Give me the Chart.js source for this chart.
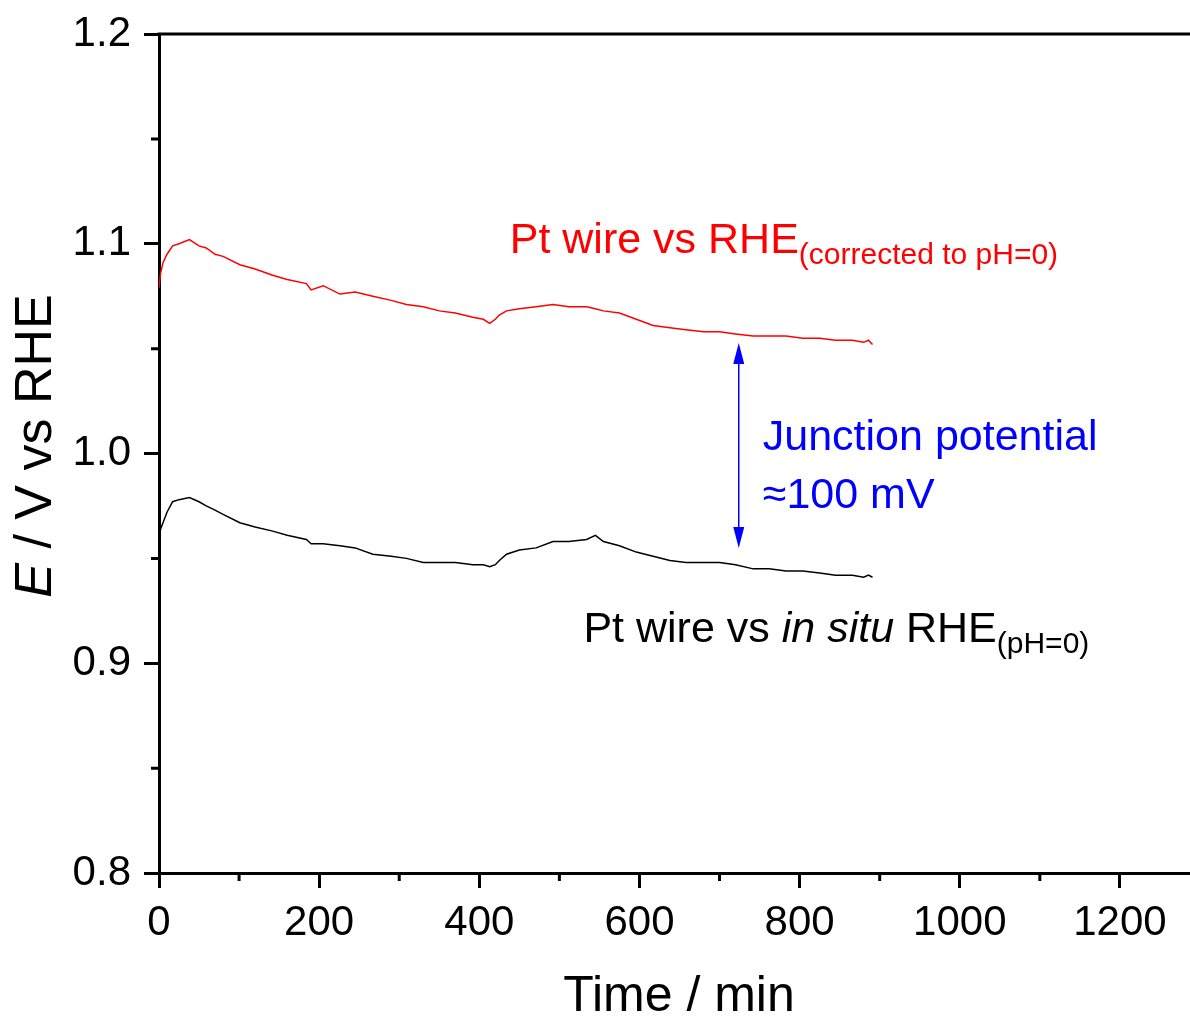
<!DOCTYPE html>
<html>
<head>
<meta charset="utf-8">
<title>Junction potential</title>
<script src="https://cdn.jsdelivr.net/npm/chart.js@4.4.1/dist/chart.umd.min.js"></script>
<style>
    html, body { margin: 0; padding: 0; background: #fff; overflow: hidden; }
    canvas { display: block; }
</style>
</head>
<body>
<canvas id="potential-chart" width="1210" height="1016" style="width:1210px;height:1016px"></canvas>
<script>
    "use strict";

    // Data (time in min, potential in V vs RHE)
    var times = [0, 2, 5, 10, 17, 25, 38, 50, 59, 70,
        80, 101, 120, 142, 160, 184, 190, 205, 226, 245,
        267, 290, 309, 330, 350, 370, 392, 405, 413, 420,
        425, 434, 450, 471, 492, 512, 534, 545, 555, 575,
        596, 617, 638, 658, 680, 700, 720, 742, 762, 783,
        804, 825, 845, 866, 880, 886, 891];

    var ptVsRhe = [1.079, 1.086, 1.091, 1.095, 1.099, 1.100, 1.102, 1.099, 1.098, 1.095,
        1.094, 1.090, 1.088, 1.085, 1.083, 1.081, 1.078, 1.080, 1.076, 1.077,
        1.075, 1.073, 1.071, 1.070, 1.068, 1.067, 1.065, 1.064, 1.062, 1.064,
        1.066, 1.068, 1.069, 1.070, 1.071, 1.070, 1.070, 1.069, 1.068, 1.067,
        1.064, 1.061, 1.060, 1.059, 1.058, 1.058, 1.057, 1.056, 1.056, 1.056,
        1.055, 1.055, 1.054, 1.054, 1.053, 1.054, 1.052];

    var ptVsInSituRhe = [0.958, 0.964, 0.967, 0.972, 0.977, 0.978, 0.979, 0.977, 0.975, 0.973,
        0.971, 0.967, 0.965, 0.963, 0.961, 0.959, 0.957, 0.957, 0.956, 0.955,
        0.952, 0.951, 0.950, 0.948, 0.948, 0.948, 0.947, 0.947, 0.946, 0.947,
        0.949, 0.952, 0.954, 0.955, 0.958, 0.958, 0.959, 0.961, 0.958, 0.956,
        0.953, 0.951, 0.949, 0.948, 0.948, 0.948, 0.947, 0.945, 0.945, 0.944,
        0.944, 0.943, 0.942, 0.942, 0.941, 0.942, 0.941];

    var xMinorTicks = [100, 300, 500, 700, 900, 1100, 1300];
    var yMinorTicks = [0.85, 0.95, 1.05, 1.15];

    // Junction potential arrow (time, upper and lower potential)
    var arrowTime = 724;
    var arrowTop = 1.0527;
    var arrowBottom = 0.9549;

    var FONT = '"Liberation Sans", Arial, sans-serif';

    function toPoints(xs, ys) {
        return xs.map(function (x, i) { return { x: x, y: ys[i] }; });
    }

    function drawRuns(ctx, x, y, runs) {
        ctx.textAlign = 'left';
        ctx.textBaseline = 'alphabetic';
        runs.forEach(function (r) {
            ctx.font = r.font;
            ctx.fillText(r.text, x, y + (r.dy || 0));
            x += ctx.measureText(r.text).width;
        });
    }

    function runsWidth(ctx, runs) {
        var w = 0;
        runs.forEach(function (r) {
            ctx.font = r.font;
            w += ctx.measureText(r.text).width;
        });
        return w;
    }

    // Frame, minor ticks, titles and labels
    var extras = {
        id: 'extras',
        afterDraw: function (chart) {
            var ctx = chart.ctx;
            var area = chart.chartArea;
            var xs = chart.scales.x;
            var ys = chart.scales.y;

            ctx.save();
            ctx.strokeStyle = '#000';
            ctx.lineWidth = 3;

            // top frame line
            ctx.beginPath();
            ctx.moveTo(area.left - 1.5, area.top);
            ctx.lineTo(chart.width, area.top);
            ctx.stroke();

            // minor ticks
            ctx.beginPath();
            xMinorTicks.forEach(function (v) {
                var px = xs.getPixelForValue(v);
                ctx.moveTo(px, area.bottom);
                ctx.lineTo(px, area.bottom + 8);
            });
            yMinorTicks.forEach(function (v) {
                var py = ys.getPixelForValue(v);
                ctx.moveTo(area.left, py);
                ctx.lineTo(area.left - 8, py);
            });
            ctx.stroke();

            // axis titles
            ctx.fillStyle = '#000';
            ctx.font = '50px ' + FONT;
            ctx.textAlign = 'center';
            ctx.textBaseline = 'alphabetic';
            ctx.fillText('Time / min', 679, 1011);

            var yTitle = [
                { text: 'E', font: 'italic 52px ' + FONT },
                { text: ' / V vs RHE', font: '52px ' + FONT }
            ];
            ctx.save();
            ctx.translate(51, 446);
            ctx.rotate(-Math.PI / 2);
            drawRuns(ctx, -runsWidth(ctx, yTitle) / 2, 0, yTitle);
            ctx.restore();

            // red label
            ctx.fillStyle = '#ff0000';
            drawRuns(ctx, xs.getPixelForValue(438), ys.getPixelForValue(1.0956), [
                { text: 'Pt wire vs RHE', font: '43px ' + FONT },
                { text: '(corrected to pH=0)', font: '30px ' + FONT, dy: 11 }
            ]);

            // black label
            ctx.fillStyle = '#000';
            drawRuns(ctx, xs.getPixelForValue(530), ys.getPixelForValue(0.9102), [
                { text: 'Pt wire vs ', font: '43px ' + FONT },
                { text: 'in situ', font: 'italic 43px ' + FONT },
                { text: ' RHE', font: '43px ' + FONT },
                { text: '(pH=0)', font: '30px ' + FONT, dy: 11 }
            ]);

            // junction potential arrow and text
            var ax = xs.getPixelForValue(arrowTime);
            var aTop = ys.getPixelForValue(arrowTop);
            var aBot = ys.getPixelForValue(arrowBottom);
            ctx.strokeStyle = '#0000ff';
            ctx.fillStyle = '#0000ff';
            ctx.lineWidth = 1.5;
            ctx.beginPath();
            ctx.moveTo(ax, aTop + 15);
            ctx.lineTo(ax, aBot - 15);
            ctx.stroke();
            ctx.beginPath();
            ctx.moveTo(ax, aTop);
            ctx.lineTo(ax - 5.5, aTop + 21);
            ctx.lineTo(ax + 5.5, aTop + 21);
            ctx.closePath();
            ctx.moveTo(ax, aBot);
            ctx.lineTo(ax - 5.5, aBot - 21);
            ctx.lineTo(ax + 5.5, aBot - 21);
            ctx.closePath();
            ctx.fill();

            var tx = xs.getPixelForValue(754);
            drawRuns(ctx, tx, ys.getPixelForValue(1.0016), [{ text: 'Junction potential', font: '43px ' + FONT }]);
            drawRuns(ctx, tx, ys.getPixelForValue(0.974), [{ text: '\u2248100 mV', font: '43px ' + FONT }]);

            ctx.restore();
        }
    };

    var ctx = document.getElementById('potential-chart').getContext('2d');
    var potentialChart = new Chart(ctx, {
        type: 'line',
        data: {
            datasets: [{
                label: 'Pt wire vs RHE (corrected to pH=0)',
                data: toPoints(times, ptVsRhe),
                borderColor: '#ff0000',
                borderWidth: 1.5,
                pointRadius: 0,
                tension: 0
            }, {
                label: 'Pt wire vs in situ RHE (pH=0)',
                data: toPoints(times, ptVsInSituRhe),
                borderColor: '#000000',
                borderWidth: 1.5,
                pointRadius: 0,
                tension: 0
            }]
        },
        options: {
            responsive: false,
            animation: false,
            layout: { padding: { top: 34, right: 10, left: 0, bottom: 0 } },
            plugins: {
                legend: { display: false },
                tooltip: { enabled: false }
            },
            scales: {
                x: {
                    type: 'linear',
                    min: 0,
                    max: 1300,
                    border: { color: '#000', width: 3 },
                    grid: { drawOnChartArea: false, tickLength: 15, tickWidth: 3, tickColor: '#000' },
                    ticks: {
                        stepSize: 200,
                        includeBounds: false,
                        autoSkip: false,
                        maxRotation: 0,
                        padding: 10,
                        color: '#000',
                        font: { family: FONT, size: 42 },
                        callback: function (v) { return String(v); }
                    },
                    afterFit: function (scale) { scale.height = 143; }
                },
                y: {
                    min: 0.8,
                    max: 1.2,
                    border: { color: '#000', width: 3 },
                    grid: { drawOnChartArea: false, tickLength: 15, tickWidth: 3, tickColor: '#000' },
                    ticks: {
                        stepSize: 0.1,
                        padding: 13,
                        color: '#000',
                        font: { family: FONT, size: 42, lineHeight: 0.6 },
                        callback: function (v) { return Number(v).toFixed(1); }
                    },
                    afterFit: function (scale) { scale.width = 159; }
                }
            }
        },
        plugins: [extras]
    });
</script>
</body>
</html>
